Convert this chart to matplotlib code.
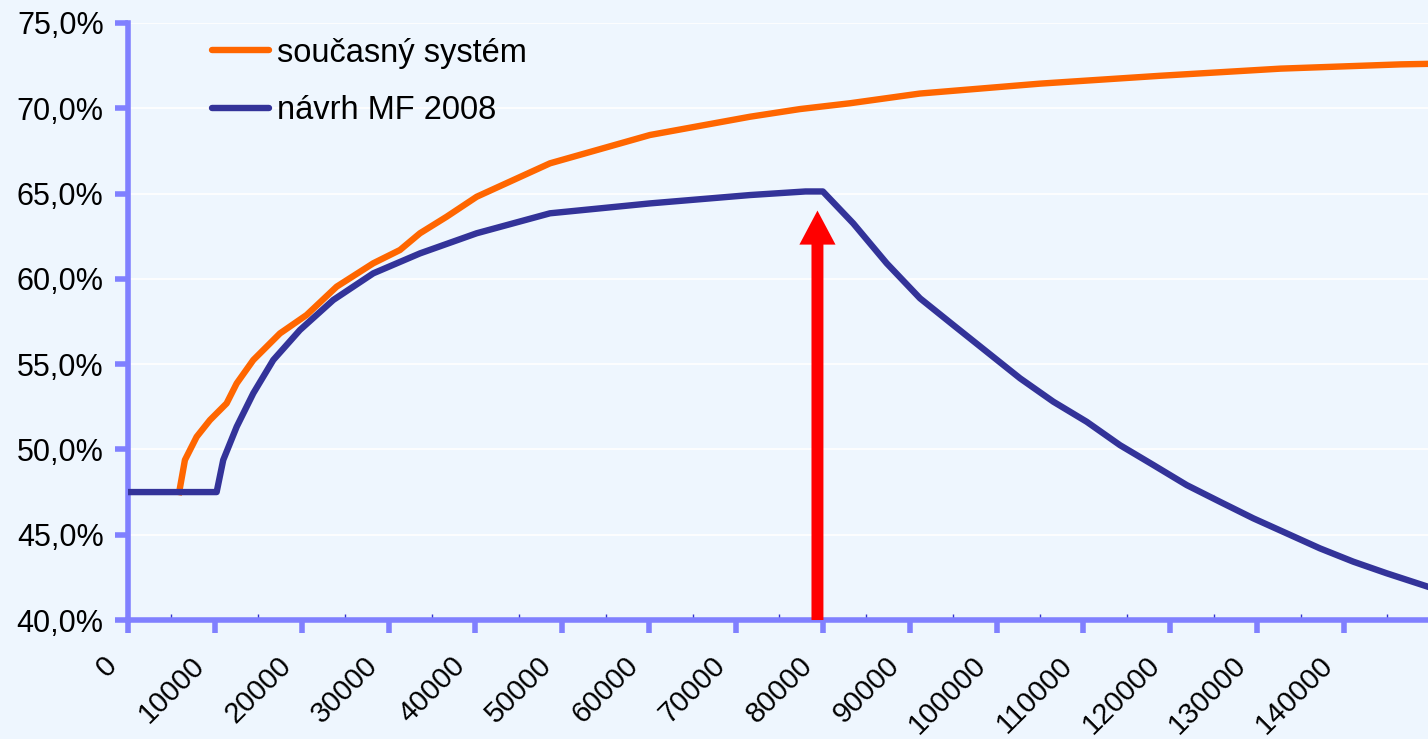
import numpy as np
import matplotlib.pyplot as plt
import matplotlib.transforms as mtransforms
from matplotlib.ticker import MultipleLocator, FuncFormatter

plt.rcParams['font.family'] = ['Liberation Sans', 'DejaVu Sans']

# současný systém
x_cur = [5900, 6560, 7910, 9440, 11360, 12520, 14430, 17500, 20570, 24030, 28240,
         31320, 33620, 36690, 40150, 48590, 60100, 71610, 77370, 83120, 91180,
         105000, 118810, 132700, 146530, 149670]
y_cur = [47.5, 49.38, 50.74, 51.72, 52.70, 53.87, 55.24, 56.80, 57.88, 59.54, 60.91,
         61.69, 62.67, 63.64, 64.81, 66.77, 68.43, 69.50, 69.95, 70.29, 70.86,
         71.44, 71.90, 72.32, 72.57, 72.60]

# návrh MF 2008
x_mf = [0, 10210, 10970, 12520, 14430, 16730, 19800, 23640, 28240, 33620, 40150,
        48590, 60100, 71610, 78000, 80000, 83500, 87350, 91180, 95020, 98860,
        102700, 106530, 110380, 114210, 118040, 121890, 125720, 129560, 133400,
        137230, 141070, 144910, 149670]
y_mf = [47.5, 47.5, 49.38, 51.33, 53.29, 55.24, 57.0, 58.76, 60.32, 61.49, 62.67,
        63.84, 64.42, 64.91, 65.12, 65.12, 63.25, 60.91, 58.86, 57.29, 55.73,
        54.17, 52.80, 51.62, 50.25, 49.09, 47.91, 46.93, 45.96, 45.08,
        44.20, 43.42, 42.74, 41.95]

arrow_x = 79380
arrow_tip = 64.0

fig = plt.figure(figsize=(14.28, 7.39), dpi=100)
fig.patch.set_facecolor('#EEF6FE')
ax = fig.add_axes([0.0896, 0.161, 0.9104, 0.808])
ax.set_facecolor('#EEF6FE')

ax.plot(x_cur, y_cur, color='#FF6600', lw=4.6, label='současný systém', zorder=3)
ax.plot(x_mf, y_mf, color='#333399', lw=4.6, label='návrh MF 2008', zorder=3)

ax.annotate('', xy=(arrow_x, arrow_tip), xytext=(arrow_x, 40),
            arrowprops=dict(facecolor='#FF0000', edgecolor='none', width=8.6,
                            headwidth=26, headlength=24.5, shrink=0), zorder=4)

ax.set_xlim(0, 149670)
ax.set_ylim(40, 75)
ax.yaxis.set_major_locator(MultipleLocator(5))
ax.xaxis.set_major_locator(MultipleLocator(10000))
ax.xaxis.set_minor_locator(MultipleLocator(5000))
ax.yaxis.set_major_formatter(FuncFormatter(lambda v, p: f'{v:.1f}%'.replace('.', ',')))
ax.xaxis.set_major_formatter(FuncFormatter(lambda v, p: f'{int(v)}'))

ax.grid(axis='y', color='white', lw=1.2, zorder=0)
for s in ['top', 'right']:
    ax.spines[s].set_visible(False)
for s in ['left', 'bottom']:
    ax.spines[s].set_color('#8080FF')
    ax.spines[s].set_linewidth(4)

ax.tick_params(axis='y', which='major', length=9.5, width=4, color='#8080FF',
               labelsize=22, pad=8)
ax.tick_params(axis='x', which='major', length=9.5, width=4, color='#8080FF',
               labelsize=21, pad=4)
ax.tick_params(axis='x', which='minor', direction='in', length=4, width=1, color='#3333CC')
shift = mtransforms.ScaledTranslation(-18 / 72, -9 / 72, fig.dpi_scale_trans)
for lab in ax.get_xticklabels():
    lab.set_rotation(45)
    lab.set_ha('right')
    lab.set_rotation_mode('anchor')
    lab.set_transform(lab.get_transform() + shift)

leg = ax.legend(loc='upper left', bbox_to_anchor=(0.0646, 0.975), frameon=False, fontsize=23.5,
                handlelength=1.75, handletextpad=0.25, labelspacing=0.8,
                borderpad=0, borderaxespad=0)
for ln in leg.get_lines():
    ln.set_solid_capstyle('round')

fig.savefig('out.png', dpi=100, facecolor=fig.get_facecolor())
